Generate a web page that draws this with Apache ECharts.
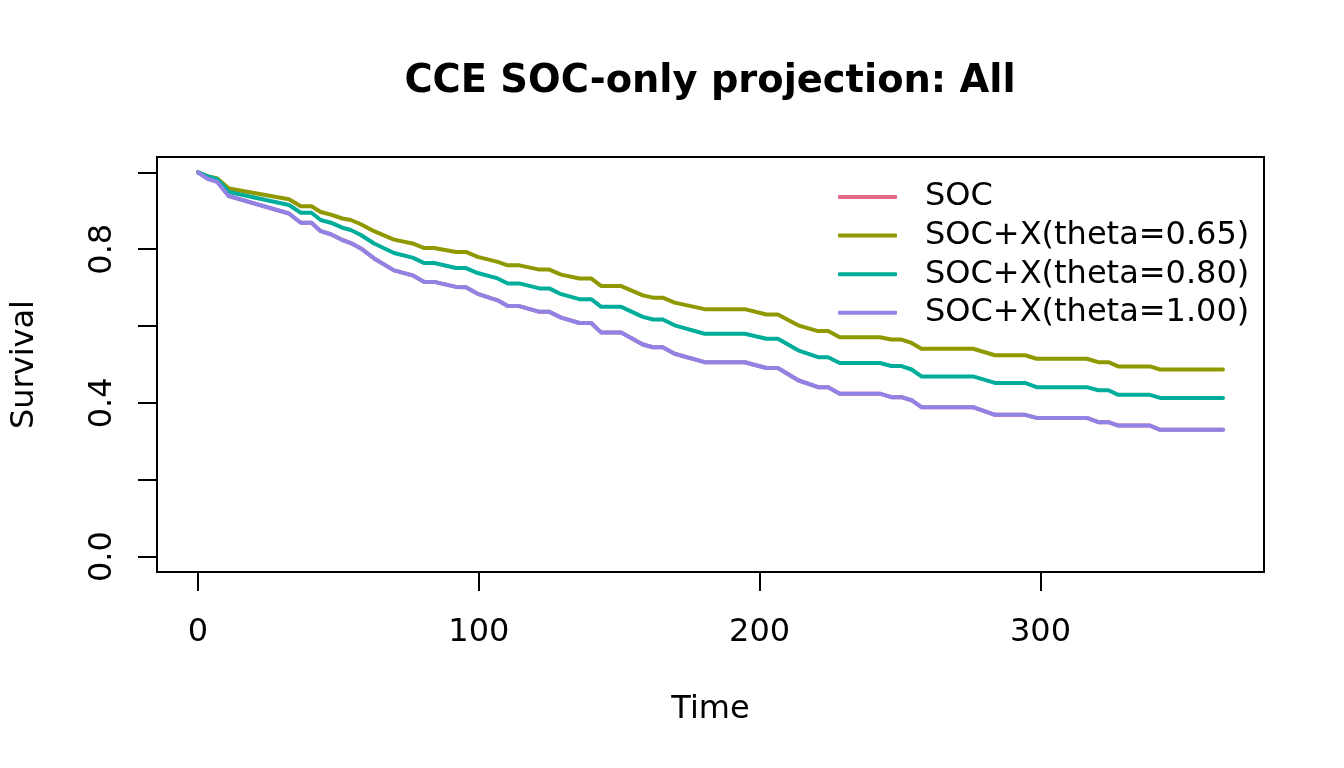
<!DOCTYPE html>
<html>
<head>
<meta charset="utf-8">
<script src="https://cdn.jsdelivr.net/npm/echarts@6/dist/echarts.min.js"></script>
<style>html,body{margin:0;padding:0;background:#fff}#c{width:1344px;height:768px}</style>
</head>
<body>
<div id="c"></div>
<script>
const seriesNames = ['SOC', 'SOC+X(theta=0.65)', 'SOC+X(theta=0.80)', 'SOC+X(theta=1.00)'];
const times = [0, 3.3, 6.9, 11, 32.4, 36.6, 40.4, 43.7, 47.3, 51.4, 54.4, 58.0, 62.7, 69.8, 76.4, 80.6, 84.1, 91.9, 95.4, 99.6, 106.7, 110.3, 114.4, 121.6, 125.1, 129.3, 135.8, 140.0, 143.6, 150.7, 158.4, 162.0, 165.5, 169.7, 180.4, 194.7, 202.4, 206.5, 213.7, 220.8, 224.4, 228.5, 242.8, 246.9, 250.5, 254.1, 257.6, 276.0, 283.8, 294.5, 298.6, 316.5, 320.6, 324.2, 327.7, 339.0, 342.6, 365];
const survTheta065 = [1.000, 0.990, 0.984, 0.958, 0.930, 0.912, 0.912, 0.897, 0.890, 0.880,
  0.876, 0.865, 0.847, 0.825, 0.815, 0.803, 0.803, 0.793, 0.793, 0.780,
  0.767, 0.758, 0.758, 0.747, 0.747, 0.734, 0.724, 0.724, 0.704, 0.704,
  0.680, 0.674, 0.674, 0.661, 0.644, 0.644, 0.630, 0.630, 0.602, 0.587,
  0.587, 0.571, 0.571, 0.565, 0.565, 0.556, 0.541, 0.541, 0.524, 0.524,
  0.515, 0.515, 0.506, 0.506, 0.495, 0.495, 0.487, 0.487];
const survTheta080 = [1.000, 0.990, 0.982, 0.949, 0.915, 0.895, 0.895, 0.876, 0.869, 0.856,
  0.850, 0.837, 0.815, 0.790, 0.778, 0.764, 0.764, 0.751, 0.751, 0.738,
  0.724, 0.711, 0.711, 0.698, 0.698, 0.683, 0.670, 0.670, 0.650, 0.650,
  0.624, 0.617, 0.617, 0.602, 0.580, 0.580, 0.567, 0.567, 0.537, 0.519,
  0.519, 0.504, 0.504, 0.496, 0.496, 0.487, 0.469, 0.469, 0.452, 0.452,
  0.441, 0.441, 0.433, 0.433, 0.421, 0.421, 0.413, 0.413];
const survTheta100 = [1.000, 0.984, 0.975, 0.938, 0.893, 0.869, 0.869, 0.847, 0.839, 0.824,
  0.816, 0.802, 0.776, 0.745, 0.732, 0.715, 0.715, 0.702, 0.701, 0.684,
  0.667, 0.652, 0.652, 0.637, 0.637, 0.622, 0.608, 0.608, 0.583, 0.583,
  0.552, 0.545, 0.545, 0.528, 0.506, 0.506, 0.491, 0.491, 0.459, 0.441,
  0.441, 0.424, 0.424, 0.415, 0.415, 0.407, 0.389, 0.389, 0.369, 0.369,
  0.361, 0.361, 0.350, 0.350, 0.341, 0.341, 0.330, 0.330];
const survSOC = survTheta100;
const xTicks = [0, 100, 200, 300];
const yTicks = [0, 0.2, 0.4, 0.6, 0.8, 1.0];
const yTickLabels = [0, 0.4, 0.8];
const colors = ['#E16A86', '#909800', '#00AD9A', '#9183E6'];

const FONT = 'DejaVu Sans';
const allSurv = [survSOC, survTheta065, survTheta080, survTheta100];
const chart = echarts.init(document.getElementById('c'), null, {renderer: 'canvas'});
chart.setOption({
  animation: false,
  backgroundColor: '#fff',
  title: {
    text: 'CCE SOC-only projection: All',
    left: 705, top: 58, textAlign: 'center',
    textStyle: {fontFamily: FONT, fontWeight: 'bold', fontSize: 38.4, color: '#000'}
  },
  grid: {left: 157, right: 80, top: 157, bottom: 196, show: true, borderColor: '#000', borderWidth: 2,
    backgroundColor: 'transparent', outerBoundsMode: 'none', containLabel: false},
  legend: {
    orient: 'vertical', left: 838, top: 181, padding: 0,
    itemWidth: 59, itemHeight: 4, itemGap: 6.6, icon: 'roundRect',
    data: seriesNames,
    textStyle: {fontFamily: FONT, fontSize: 32, color: '#000', lineHeight: 32, padding: [0, 0, 0, 23]}
  },
  xAxis: {
    type: 'value', min: -14.6, max: 379.6,
    name: 'Time', nameLocation: 'middle', nameGap: 122,
    nameTextStyle: {fontFamily: FONT, fontSize: 32, color: '#000'},
    axisLine: {show: false, onZero: false},
    splitLine: {show: false},
    axisTick: {show: true, length: 19, lineStyle: {color: '#000', width: 2}, customValues: xTicks},
    axisLabel: {fontFamily: FONT, fontSize: 32, color: '#000', margin: 45, customValues: xTicks}
  },
  yAxis: {
    type: 'value', min: -0.04, max: 1.04,
    name: 'Survival', nameLocation: 'middle', nameGap: 116, nameRotate: 90,
    nameTextStyle: {fontFamily: FONT, fontSize: 32, color: '#000'},
    axisLine: {show: false, onZero: false},
    splitLine: {show: false},
    axisTick: {show: true, length: 19, lineStyle: {color: '#000', width: 2}, customValues: yTicks},
    axisLabel: {fontFamily: FONT, fontSize: 32, color: '#000', margin: 38, rotate: 90,
      customValues: yTickLabels, formatter: v => v.toFixed(1)}
  },
  series: seriesNames.map((n, i) => ({
    name: n, type: 'line', showSymbol: false, symbol: 'none',
    color: colors[i],
    lineStyle: {width: 4, color: colors[i], cap: 'round', join: 'round'},
    data: times.map((t, k) => [t, allSurv[i][k]]),
    z: 2 + i
  }))
});
</script>
</body>
</html>
